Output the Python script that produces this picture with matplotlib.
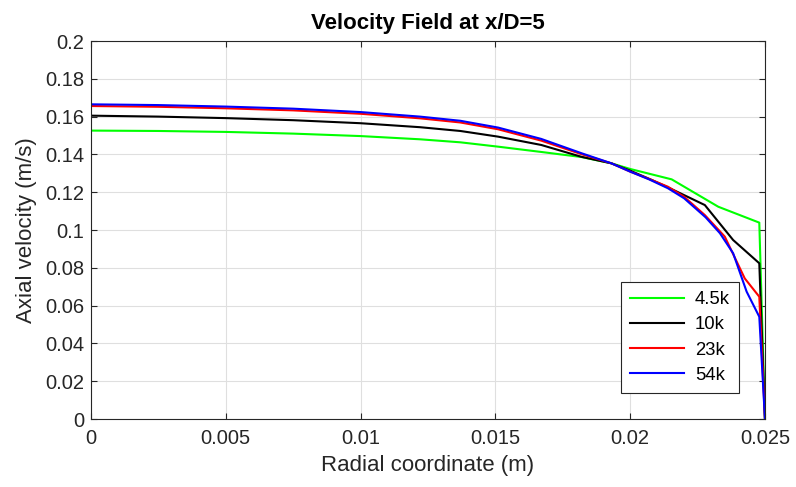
import matplotlib
matplotlib.use("Agg")
from matplotlib import pyplot
import numpy as np

pyplot.rcParams["font.family"] = ["Liberation Sans", "DejaVu Sans"]

# radial coordinate (m) and axial velocity (m/s) per case
r_45k = [0.0, 0.0025, 0.005, 0.0075, 0.0100, 0.0122, 0.0137, 0.0151, 0.0167, 0.0182, 0.0193, 0.0200,
         0.02154, 0.02327, 0.02479, 0.025]
u_45k = [0.1526, 0.1524, 0.1519, 0.1510, 0.1497, 0.1480, 0.1464, 0.1441, 0.1413, 0.1386, 0.1353, 0.1323,
         0.1268, 0.1123, 0.1039, 0.0]

r_10k = [0.0, 0.0025, 0.005, 0.0075, 0.0100, 0.0122, 0.0137, 0.0151, 0.0167, 0.0182, 0.0193, 0.0200,
         0.0208, 0.02147, 0.02277, 0.02382, 0.02479, 0.025]
u_10k = [0.1605, 0.1600, 0.1592, 0.1581, 0.1565, 0.1544, 0.1524, 0.1494, 0.1450, 0.1387, 0.1353, 0.1314,
         0.1265, 0.1221, 0.1132, 0.0947, 0.0824, 0.0]

r_23k = [0.0, 0.0025, 0.005, 0.0075, 0.0100, 0.0122, 0.0137, 0.0151, 0.0167, 0.0182, 0.0193, 0.0200,
         0.0207, 0.0214, 0.0220, 0.02277, 0.02351, 0.02425, 0.02479, 0.025]
u_23k = [0.1656, 0.1652, 0.1644, 0.1633, 0.1615, 0.1591, 0.1569, 0.1533, 0.1473, 0.1401, 0.1353, 0.1309,
         0.1270, 0.1229, 0.1176, 0.1079, 0.0965, 0.0744, 0.0647, 0.0]

r_54k = [0.0, 0.0025, 0.005, 0.0075, 0.0100, 0.0122, 0.0137, 0.0151, 0.0167, 0.0182, 0.0193, 0.0200,
         0.0207, 0.0214, 0.0220, 0.0228, 0.02333, 0.02382, 0.02432, 0.02479, 0.025]
u_54k = [0.1665, 0.1661, 0.1653, 0.1642, 0.1624, 0.1600, 0.1578, 0.1542, 0.1482, 0.1406, 0.1353, 0.1309,
         0.1268, 0.1221, 0.1168, 0.1067, 0.0983, 0.0877, 0.0674, 0.0541, 0.0]

fig = pyplot.figure(figsize=(7.96, 4.87), dpi=100)
ax = fig.add_axes([0.1143, 0.1396, 0.8467, 0.7762])

ax.plot(r_45k, u_45k, color="#00ff00", linewidth=1.5, label="4.5k")
ax.plot(r_10k, u_10k, color="#000000", linewidth=1.5, label="10k")
ax.plot(r_23k, u_23k, color="#ff0000", linewidth=1.5, label="23k")
ax.plot(r_54k, u_54k, color="#0000ff", linewidth=1.5, label="54k")

ax.set_xlim(0, 0.025)
ax.set_ylim(0, 0.2)
ax.set_xticks(np.arange(0, 0.0251, 0.005))
ax.set_xticklabels(["0", "0.005", "0.01", "0.015", "0.02", "0.025"])
ax.set_yticks(np.arange(0, 0.201, 0.02))
ax.set_yticklabels(["0", "0.02", "0.04", "0.06", "0.08", "0.1", "0.12", "0.14", "0.16", "0.18", "0.2"])
ax.tick_params(direction="in", length=4, top=True, right=True, labelsize=14.5, colors="#262626")
ax.tick_params(axis="x", pad=7)
ax.tick_params(axis="y", pad=5)
ax.grid(True, color="#dfdfdf", linewidth=0.8)
ax.set_axisbelow(True)
for s in ax.spines.values():
    s.set_color("#262626")
    s.set_linewidth(0.8)

ax.set_xlabel("Radial coordinate (m)", fontsize=16, color="#262626", labelpad=5)
ax.set_ylabel("Axial velocity (m/s)", fontsize=16, color="#262626", labelpad=6)
ax.set_title("Velocity Field at x/D=5", fontsize=16, fontweight="bold", pad=9)

leg = ax.legend(loc="lower right", fontsize=13.3, fancybox=False, framealpha=1,
                edgecolor="#262626", handlelength=2.9, handletextpad=0.6, labelspacing=0.45,
                borderaxespad=1.4, borderpad=0.5)
leg.get_frame().set_linewidth(0.8)

pyplot.savefig("out.png", dpi=100)
